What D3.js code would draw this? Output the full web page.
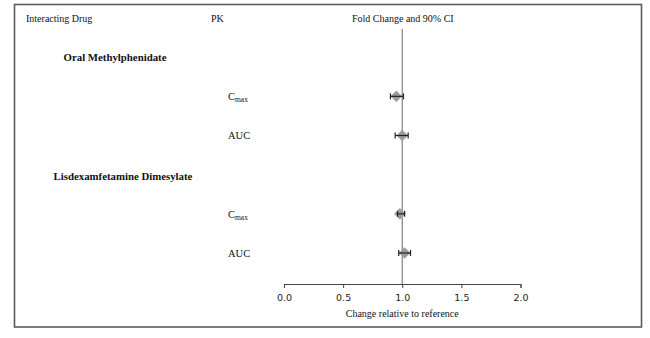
<!DOCTYPE html>
<html>
<head>
<meta charset="utf-8">
<script src="https://cdn.jsdelivr.net/npm/d3@7"></script>
<style>
  html, body { margin: 0; padding: 0; background: #fff; }
  svg { display: block; }
</style>
</head>
<body>
<svg id="chart" width="650" height="338"></svg>
<script>
// Interacting drugs and the PK parameters reported for each
const groups = ["Oral Methylphenidate", "Lisdexamfetamine Dimesylate"];
const pkParams = ["Cmax", "AUC", "Cmax", "AUC"];
// Geometric mean ratio and 90% CI bounds
const ratio = [0.95, 1.00, 0.98, 1.02];
const lower = [0.90, 0.94, 0.96, 0.97];
const upper = [1.01, 1.05, 1.02, 1.07];
const tickValues = [0, 0.5, 1, 1.5, 2];
const headers = ["Interacting Drug", "PK", "Fold Change and 90% CI"];
const axisTitle = "Change relative to reference";

const svg = d3.select("#chart");
const serif = "'Liberation Serif', 'Times New Roman', serif";

// frame
svg.append("rect")
  .attr("x", 14.5).attr("y", 4.5).attr("width", 627).attr("height", 322.5)
  .attr("fill", "none").attr("stroke", "#5a5a5a").attr("stroke-width", 1.6);

// row layout: header, group, param, param, group, param, param
const rowKeys = ["hdr", "g0", "p0", "p1", "g1", "p2", "p3"];
const y = d3.scalePoint().domain(rowKeys).range([18, 253]);
const x = d3.scaleLinear().domain([0, 2]).range([284, 520.5]);
const axisY = 284;

// column headers
const hdrX = [26, 211, 352];
svg.selectAll("text.hdr").data(headers).join("text")
  .attr("class", "hdr")
  .attr("x", (d, i) => hdrX[i]).attr("y", y("hdr"))
  .attr("dy", "0.35em")
  .attr("font-family", serif).attr("font-size", 10).attr("fill", "#111")
  .text(d => d);

// group labels
const groupX = [115, 123];
svg.selectAll("text.grp").data(groups).join("text")
  .attr("class", "grp")
  .attr("x", (d, i) => groupX[i]).attr("y", (d, i) => y("g" + i) + i * 2)
  .attr("dy", "0.35em").attr("text-anchor", "middle")
  .attr("font-family", serif).attr("font-size", 10.8).attr("font-weight", "bold")
  .attr("fill", "#111")
  .text(d => d);

// PK parameter labels
const pk = svg.selectAll("text.pk").data(pkParams).join("text")
  .attr("class", "pk")
  .attr("x", 228).attr("y", (d, i) => y("p" + i))
  .attr("dy", "0.35em")
  .attr("font-family", serif).attr("font-size", 10.5).attr("fill", "#111");
pk.each(function(d) {
  const t = d3.select(this);
  if (d === "Cmax") {
    t.append("tspan").text("C");
    t.append("tspan").attr("font-size", 7.5).attr("dy", "0.3em").text("max");
  } else {
    t.text(d);
  }
});

// reference line at no change
svg.append("line")
  .attr("x1", x(1)).attr("x2", x(1))
  .attr("y1", 29).attr("y2", axisY)
  .attr("stroke", "#8a8a8a").attr("stroke-width", 1.3);

// x axis
const axis = svg.append("g")
  .attr("transform", `translate(0,${axisY})`)
  .call(d3.axisBottom(x).tickValues(tickValues).tickFormat(d3.format(".1f")).tickSize(4).tickSizeOuter(4));
axis.select(".domain").attr("stroke", "#444");
axis.selectAll(".tick line").attr("stroke", "#444");
axis.selectAll(".tick text")
  .attr("font-family", "'DejaVu Sans', sans-serif").attr("font-size", 9.5)
  .attr("fill", "#222").attr("dy", "1.1em");

svg.append("text")
  .attr("x", x(1)).attr("y", 317)
  .attr("text-anchor", "middle")
  .attr("font-family", serif).attr("font-size", 10).attr("fill", "#111")
  .text(axisTitle);

// point estimates with 90% CI
const rows = ratio.map((r, i) => ({ r, lo: lower[i], hi: upper[i], key: "p" + i }));
const mk = svg.selectAll("g.mk").data(rows).join("g").attr("class", "mk");
mk.append("path")
  .attr("d", d3.symbol(d3.symbolDiamond2, 80))
  .attr("transform", d => `translate(${x(d.r)},${y(d.key)})`)
  .attr("fill", "#9a9a9a").attr("stroke", "#aaa").attr("stroke-width", 0.5);
mk.append("line")
  .attr("x1", d => x(d.lo)).attr("x2", d => x(d.hi))
  .attr("y1", d => y(d.key)).attr("y2", d => y(d.key))
  .attr("stroke", "#222").attr("stroke-width", 1.2);
mk.selectAll("line.cap").data(d => [d.lo, d.hi].map(v => ({ v, key: d.key }))).join("line")
  .attr("class", "cap")
  .attr("x1", c => x(c.v)).attr("x2", c => x(c.v))
  .attr("y1", c => y(c.key) - 3).attr("y2", c => y(c.key) + 3)
  .attr("stroke", "#222").attr("stroke-width", 1.2);
</script>
</body>
</html>
